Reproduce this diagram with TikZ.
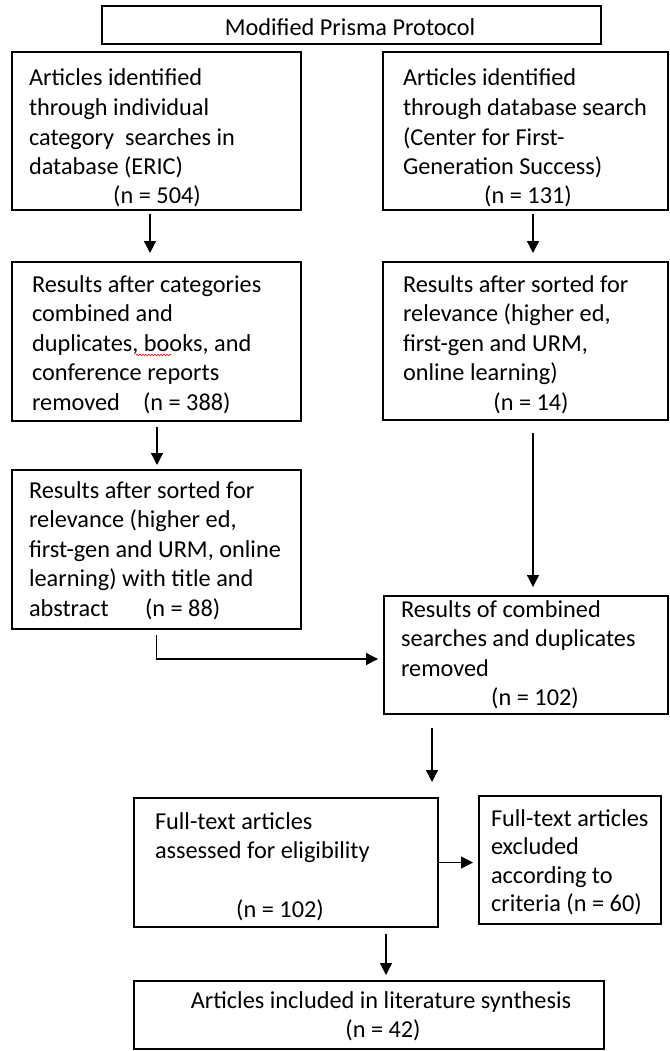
\documentclass[tikz,border=0pt]{standalone}
\usepackage{fontspec}
\setmainfont{Carlito}
\usetikzlibrary{arrows.meta,calc,decorations.pathmorphing}
\newcommand{\fsz}{\fontsize{24.3}{29.6}\selectfont}
\newcommand{\fsze}{\fontsize{24.3}{28.5}\selectfont}
\newcommand{\strt}{\rule{0pt}{20pt}}
\begin{document}
\begin{tikzpicture}[x=1pt,y=-1pt,
  box/.style={draw, line width=2.2pt, rectangle, inner sep=0pt, outer sep=0pt},
  txt/.style={anchor=north west, inner sep=0pt, outer sep=0pt, align=left, font=\fsz},
  num/.style={anchor=base, inner sep=0pt, outer sep=0pt, font=\fsz},
  numw/.style={anchor=base west, inner sep=0pt, outer sep=0pt, font=\fsz},
  arr/.style={line width=1.3pt, -{Triangle[width=12pt,length=12pt]}}]
\fill[white] (0,0) rectangle (669,1051);
\useasboundingbox (0,0) rectangle (669,1051);

% boxes
\node[box, minimum width=499pt, minimum height=38pt] (title) at (351.5,25) {};
\node[box, minimum width=289pt, minimum height=158pt] (A) at (156.5,131) {};
\node[box, minimum width=285pt, minimum height=158pt] (B) at (525.5,131) {};
\node[box, minimum width=289pt, minimum height=159pt] (A2) at (156.5,341.5) {};
\node[box, minimum width=285pt, minimum height=158pt] (B2) at (525.5,341) {};
\node[box, minimum width=289pt, minimum height=159pt] (A3) at (156.5,549.5) {};
\node[box, minimum width=284pt, minimum height=118pt] (C) at (526,655) {};
\node[box, minimum width=304pt, minimum height=129pt] (D) at (286,862.5) {};
\node[box, minimum width=182pt, minimum height=128pt] (E) at (570,860) {};
\node[box, minimum width=470pt, minimum height=68pt] (F) at (369,1015) {};

% texts
\node[num] (tT) at (350,36) {Modified Prisma Protocol};

\node[txt] (tA) at (29,66) {\strt Articles identified\\through individual\\category\ \ searches in\\database (ERIC)};
\node[num] (nA) at (157,204) {(n = 504)};

\node[txt] (tB) at (403,66) {\strt Articles identified\\through database search\\(Center for First-\\Generation Success)};
\node[num] (nB) at (528,204) {(n = 131)};

\node[txt] (tA2) at (32,272) {\strt Results after categories\\combined and\\duplicates, books, and\\conference reports\\removed};
\node[numw] (nA2) at (143,410.4) {(n = 388)};
\draw[red, line width=0.6pt, decorate, decoration={snake, amplitude=0.8pt, segment length=3pt}] (136,355) -- (171,355);

\node[txt] (tB2) at (403,272) {\strt Results after sorted for\\relevance (higher ed,\\first-gen and URM,\\online learning)};
\node[num] (nB2) at (531,410.4) {(n = 14)};

\node[txt] (tA3) at (29,478) {\strt Results after sorted for\\relevance (higher ed,\\first-gen and URM, online\\learning) with title and\\abstract};
\node[numw] (nA3) at (145,616.4) {(n = 88)};

\node[txt] (tC) at (401,597) {\strt Results of combined\\searches and duplicates\\removed};
\node[num] (nC) at (535,705.8) {(n = 102)};

\node[txt] (tD) at (155,809) {\strt Full-text articles\\assessed for eligibility};
\node[num] (nD) at (280,917) {(n = 102)};

\node[txt, font=\fsze] (tE) at (491,806) {\strt Full-text articles\\excluded\\according to\\criteria (n = 60)};

\node[num] (tF) at (381,1008) {Articles included in literature synthesis};
\node[num] (nF) at (383,1037) {(n = 42)};

% connectors
\draw[arr] ($(A.south)+(-6.5,4)$) -- ($(A2.north)+(-6.5,-9)$);
\draw[arr] ($(B.south)+(7.5,4)$) -- ($(B2.north)+(7.5,-9)$);
\draw[arr] ($(A2.south)+(0.5,6)$) -- ($(A3.north)+(0.5,-5)$);
\draw[arr] ($(B2.south)+(7.5,13)$) -- ($(C.north)+(7,-9)$);
\draw[arr] ($(A3.south)+(0,6)$) |- ($(C.west)+(-6,4)$);
\draw[arr] ($(C.south -| D.north east)+(-6,14)$) -- ($(D.north east)+(-6,-16)$);
\draw[arr] ($(D.east)+(1,0)$) -- ($(D.east -| E.west)+(-6,0)$);
\draw[arr] ($(D.south)+(100,7)$) -- ($(F.north -| D.south)+(100,-6)$);
\end{tikzpicture}
\end{document}
